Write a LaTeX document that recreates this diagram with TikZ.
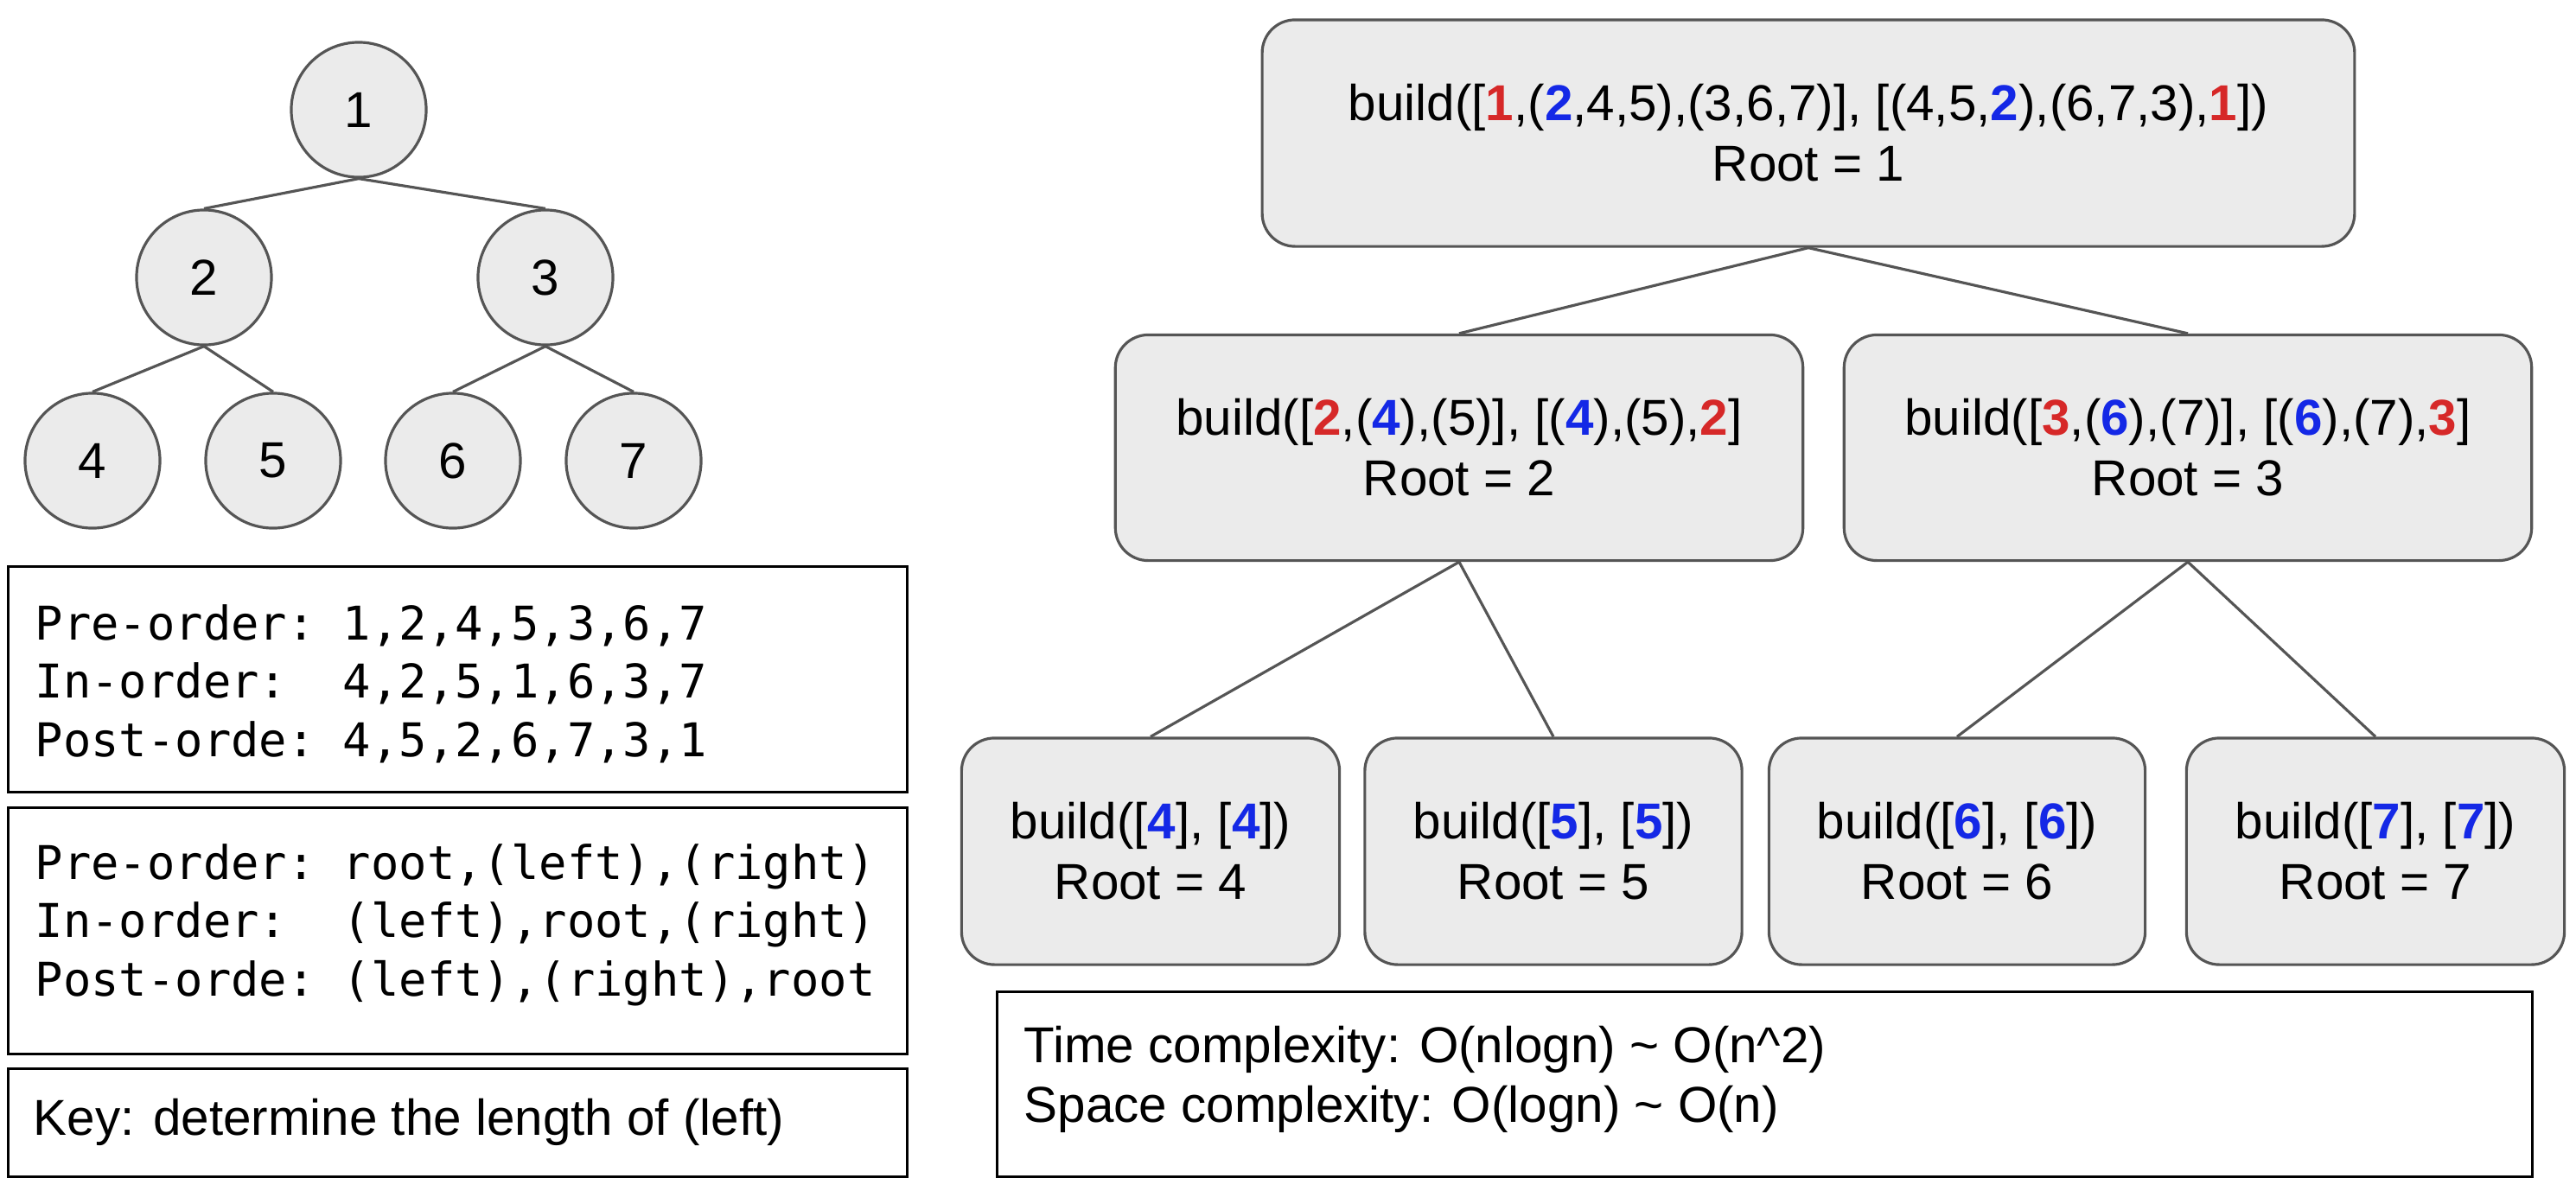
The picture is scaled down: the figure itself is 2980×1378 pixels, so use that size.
\documentclass[tikz,border=0pt]{standalone}
\usepackage{fontspec}
\setmainfont{Liberation Sans}
\newfontfamily\codefont{DejaVu Sans Mono}
\definecolor{linegray}{RGB}{85,85,85}
\definecolor{boxfill}{RGB}{235,235,235}
\definecolor{hred}{RGB}{214,40,40}
\definecolor{hblue}{RGB}{20,40,230}
\newcommand{\hlr}[1]{\textcolor{hred}{\textbf{#1}}}
\newcommand{\hlb}[1]{\textcolor{hblue}{\textbf{#1}}}
\begin{document}
\begin{tikzpicture}[x=0.01cm,y=-0.01cm,
  tnode/.style={circle, draw=linegray, fill=boxfill, line width=0.9pt, minimum size=1.56cm, inner sep=0pt, font=\fontsize{16.6pt}{20pt}\selectfont},
  rbox/.style={draw=linegray, fill=boxfill, rounded corners=0.38cm, line width=0.9pt, align=center, inner sep=0pt, font=\fontsize{16.6pt}{19.9pt}\selectfont},
  lbox/.style={draw=black, line width=0.85pt, inner sep=0pt, anchor=north west},
  cbox/.style={draw=black, line width=0.85pt, inner sep=0pt},
  conn/.style={draw=linegray, line width=0.9pt},
  codetext/.style={anchor=west, align=left, inner sep=0pt, font=\codefont\fontsize{15.3pt}{19.2pt}\selectfont},
  sanstext/.style={anchor=west, align=left, inner sep=0pt, font=\fontsize{16.6pt}{19.7pt}\selectfont}
]
\useasboundingbox (0,0) rectangle (2980,1378);

% ---- tree ----
\node[tnode] (n1) at (415,127) {1};
\node[tnode] (n2) at (236,321) {2};
\node[tnode] (n3) at (631,321) {3};
\node[tnode] (n4) at (107,533) {4};
\node[tnode] (n5) at (316,533) {5};
\node[tnode] (n6) at (524,533) {6};
\node[tnode] (n7) at (733,533) {7};
\draw[conn] (n1.south) -- (n2.north);
\draw[conn] (n1.south) -- (n3.north);
\draw[conn] (n2.south) -- (n4.north);
\draw[conn] (n2.south) -- (n5.north);
\draw[conn] (n3.south) -- (n6.north);
\draw[conn] (n3.south) -- (n7.north);

% ---- left boxes ----
\node[lbox, minimum width=10.39cm, minimum height=2.61cm] (lb1) at (8,654) {};
\node[codetext] (lt1) at (40,791) {Pre-order:\ 1,2,4,5,3,6,7\\In-order:\ \ 4,2,5,1,6,3,7\\Post-orde:\ 4,5,2,6,7,3,1};
\node[lbox, minimum width=10.39cm, minimum height=2.85cm] (lb2) at (8,933) {};
\node[codetext] (lt2) at (40,1070) {Pre-order:\ root,(left),(right)\\In-order:\ \ (left),root,(right)\\Post-orde:\ (left),(right),root};
\node[lbox, minimum width=10.39cm, minimum height=1.25cm] (lb3) at (8,1235) {};
\node[sanstext] (lt3) at (38,1298) {Key: determine the length of (left)};

% ---- recursion tree ----
\node[rbox, minimum width=12.63cm, minimum height=2.62cm] (b1) at (2092,154)
  {build([\hlr{1},(\hlb{2},4,5),(3,6,7)], [(4,5,\hlb{2}),(6,7,3),\hlr{1}])\\Root = 1};
\node[rbox, minimum width=7.95cm, minimum height=2.61cm] (b2) at (1688,518)
  {build([\hlr{2},(\hlb{4}),(5)], [(\hlb{4}),(5),\hlr{2}]\\Root = 2};
\node[rbox, minimum width=7.95cm, minimum height=2.61cm] (b3) at (2531,518)
  {build([\hlr{3},(\hlb{6}),(7)], [(\hlb{6}),(7),\hlr{3}]\\Root = 3};
\node[rbox, minimum width=4.37cm, minimum height=2.62cm] (b4) at (1331,985)
  {build([\hlb{4}], [\hlb{4}])\\Root = 4};
\node[rbox, minimum width=4.36cm, minimum height=2.62cm] (b5) at (1797,985)
  {build([\hlb{5}], [\hlb{5}])\\Root = 5};
\node[rbox, minimum width=4.35cm, minimum height=2.62cm] (b6) at (2264,985)
  {build([\hlb{6}], [\hlb{6}])\\Root = 6};
\node[rbox, minimum width=4.37cm, minimum height=2.62cm] (b7) at (2748,985)
  {build([\hlb{7}], [\hlb{7}])\\Root = 7};
\draw[conn] (b1.south) -- (b2.north);
\draw[conn] (b1.south) -- (b3.north);
\draw[conn] (b2.south) -- (b4.north);
\draw[conn] (b2.south) -- (b5.north);
\draw[conn] (b3.south) -- (b6.north);
\draw[conn] (b3.south) -- (b7.north);

% ---- complexity ----
\node[cbox, minimum width=17.75cm, minimum height=2.13cm] (cb) at (2041.5,1254.5) {};
\node[sanstext] (ct) at (1184,1249) {Time complexity: O(nlogn) \textasciitilde{} O(n\textasciicircum{}2)\\Space complexity: O(logn) \textasciitilde{} O(n)};
\end{tikzpicture}
\end{document}
